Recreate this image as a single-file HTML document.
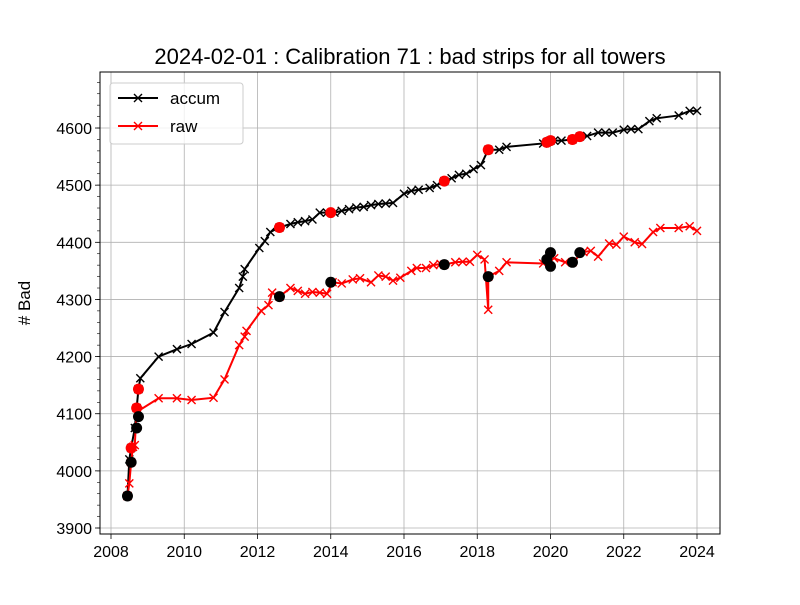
<!DOCTYPE html>
<html><head><meta charset="utf-8"><style>
body{margin:0;background:#fff}
svg text{font-family:"Liberation Sans","DejaVu Sans",sans-serif}
</style></head><body>
<svg id="chart" width="800" height="600" xmlns="http://www.w3.org/2000/svg">
<rect width="800" height="600" fill="#fff"/>
<g id="grid"></g>
<g id="series"></g>
<g id="axes"></g>
<text x="410" y="64" text-anchor="middle" font-size="22">2024-02-01 : Calibration 71 : bad strips for all towers</text>
<text transform="translate(30,303) rotate(-90)" text-anchor="middle" font-size="17"># Bad</text>
<g>
<rect x="110" y="83" width="133" height="61" rx="3" fill="#fff" fill-opacity="0.8" stroke="#ccc"/>
<g>
<line x1="118" y1="98" x2="158" y2="98" stroke="#000" stroke-width="2"/>
<path d="M134,94 l8,8 M142,94 l-8,8" stroke="#000" stroke-width="1.4"/>
<text x="170" y="104" font-size="17">accum</text></g>
<g>
<line x1="118" y1="126" x2="158" y2="126" stroke="#f00" stroke-width="2"/>
<path d="M134,122 l8,8 M142,122 l-8,8" stroke="#f00" stroke-width="1.4"/>
<text x="170" y="132" font-size="17">raw</text></g>
</g>
</svg>
<script>
const accumX=[2008.45,2008.5,2008.55,2008.65,2008.7,2008.75,2008.8,2009.3,2009.8,2010.2,2010.8,2011.1,2011.5,2011.6,2011.65,2012.05,2012.2,2012.35,2012.6,2012.9,2013.1,2013.3,2013.5,2013.7,2013.9,2014.1,2014.3,2014.5,2014.7,2014.9,2015.1,2015.3,2015.5,2015.7,2016.0,2016.2,2016.4,2016.7,2016.9,2017.1,2017.3,2017.5,2017.7,2017.9,2018.1,2018.3,2018.6,2018.8,2019.8,2019.9,2020.0,2020.1,2020.3,2020.6,2020.8,2021.0,2021.3,2021.5,2021.7,2022.0,2022.2,2022.4,2022.7,2022.9,2023.5,2023.8,2024.0];
const accumY=[3956,4020,4040,4075,4110,4143,4162,4200,4213,4222,4242,4278,4320,4340,4353,4390,4402,4418,4426,4432,4435,4437,4440,4452,4452,4452,4455,4458,4461,4462,4465,4467,4468,4469,4485,4490,4492,4495,4500,4507,4512,4518,4520,4528,4535,4562,4562,4567,4573,4575,4578,4578,4578,4580,4585,4586,4592,4592,4592,4597,4598,4598,4612,4617,4622,4630,4630];
const rawX=[2008.45,2008.5,2008.55,2008.6,2008.65,2008.7,2008.75,2009.3,2009.8,2010.2,2010.8,2011.1,2011.5,2011.65,2011.7,2012.1,2012.3,2012.4,2012.6,2012.9,2013.1,2013.3,2013.5,2013.7,2013.9,2014.05,2014.3,2014.6,2014.8,2015.1,2015.3,2015.5,2015.7,2015.9,2016.2,2016.35,2016.6,2016.8,2017.0,2017.1,2017.4,2017.6,2017.8,2018.0,2018.2,2018.3,2018.3,2018.6,2018.8,2019.8,2019.95,2020.1,2020.4,2020.6,2020.9,2021.1,2021.3,2021.6,2021.8,2022.0,2022.3,2022.5,2022.8,2023.0,2023.5,2023.8,2024.0];
const rawY=[3956,3978,4015,4042,4045,4110,4105,4127,4127,4124,4128,4160,4220,4235,4245,4280,4290,4312,4305,4320,4315,4310,4313,4312,4310,4330,4328,4335,4337,4330,4342,4340,4333,4338,4350,4355,4355,4360,4362,4361,4365,4366,4366,4378,4370,4282,4340,4350,4365,4363,4370,4372,4365,4365,4383,4385,4375,4398,4396,4410,4400,4397,4418,4425,4425,4428,4420];
const redDotX=[2008.55,2008.7,2008.75,2012.6,2014.0,2017.1,2018.3,2019.9,2020.0,2020.6,2020.8];
const redDotY=[4040,4110,4143,4426,4452,4507,4562,4575,4578,4580,4585];
const blackDotX=[2008.45,2008.55,2008.7,2008.75,2012.6,2014.0,2017.1,2018.3,2019.9,2020.0,2020.0,2020.6,2020.8];
const blackDotY=[3956,4015,4075,4095,4305,4330,4361,4340,4370,4382,4358,4365,4382];
const xTicks=[2008,2010,2012,2014,2016,2018,2020,2022,2024];
const yTicks=[3900,4000,4100,4200,4300,4400,4500,4600];

const L=100,R=720,T=72,B=534;
const sx=v=>111+(v-2008)*36.625;
const sy=v=>528-(v-3900)*0.5714;
const NS="http://www.w3.org/2000/svg";
function mk(t,a,p){const e=document.createElementNS(NS,t);for(const k in a)e.setAttribute(k,a[k]);p.appendChild(e);return e;}
const grid=document.getElementById('grid'),ser=document.getElementById('series'),ax=document.getElementById('axes');
xTicks.forEach(t=>{const x=sx(t);
 const g=mk('line',{x1:x,x2:x,y1:T,y2:B,stroke:'#b0b0b0','stroke-width':0.8},grid);
 
 
 mk('line',{x1:x,x2:x,y1:B,y2:B+5,stroke:'#000','stroke-width':0.8},ax);
 const tx=mk('text',{x:x,y:B+23,'text-anchor':'middle','font-size':16},ax);tx.textContent=t;
 
 
});
yTicks.forEach(t=>{const y=sy(t);
 const g=mk('line',{x1:L,x2:R,y1:y,y2:y,stroke:'#b0b0b0','stroke-width':0.8},grid);
 
 
 mk('line',{x1:L-5,x2:L,y1:y,y2:y,stroke:'#000','stroke-width':0.8},ax);
 const tx=mk('text',{x:L-8,y:y+6,'text-anchor':'end','font-size':16},ax);tx.textContent=t;
 
 
});
for(let v=3900;v<=4700;v+=20){const y=sy(v);if(y<T||y>B)continue;mk('line',{x1:L-3,x2:L,y1:y,y2:y,stroke:'#000','stroke-width':0.6},ax);}
mk('rect',{x:L,y:T,width:R-L,height:B-T,fill:'none',stroke:'#000','stroke-width':1},ax);
function line(xs,ys,c,name){
 const pts=xs.map((x,i)=>sx(x)+','+sy(ys[i])).join(' ');
 const p=mk('polyline',{points:pts,fill:'none',stroke:c,'stroke-width':2},ser);
 
 
 xs.forEach((x,i)=>{const X=sx(x),Y=sy(ys[i]);
  const m=mk('path',{d:`M${X-4},${Y-4}L${X+4},${Y+4}M${X+4},${Y-4}L${X-4},${Y+4}`,stroke:c,'stroke-width':1.4},ser);
  
  
 });
}
line(accumX,accumY,'#000','accum');
line(rawX,rawY,'#f00','raw');
function dots(xs,ys,c,name){xs.forEach((x,i)=>{
 const d=mk('circle',{cx:sx(x),cy:sy(ys[i]),r:5.5,fill:c},ser);
 
 
});}
dots(redDotX,redDotY,'#f00','accum-calibration-dot');
dots(blackDotX,blackDotY,'#000','raw-calibration-dot');
</script>
</body></html>
